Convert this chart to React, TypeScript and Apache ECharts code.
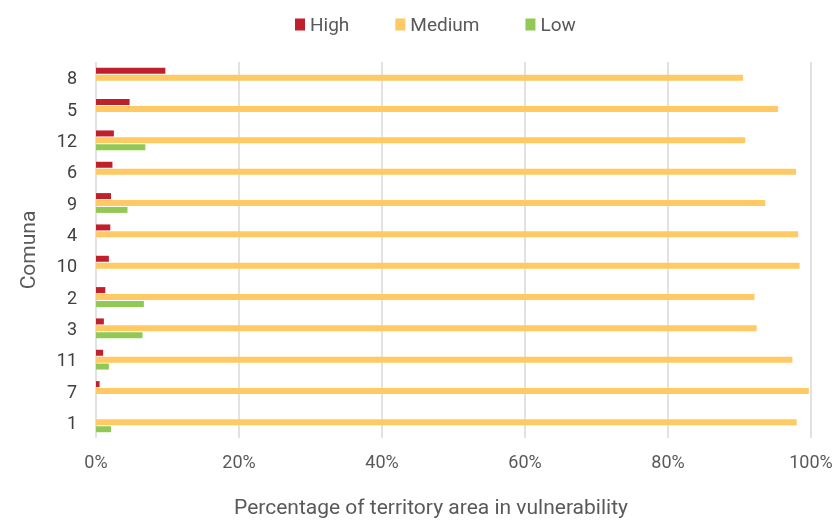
import React, { useEffect, useRef } from "react";
import * as echarts from "echarts";

const comunas = ["8", "5", "12", "6", "9", "4", "10", "2", "3", "11", "7", "1"];
const highValues = [9.7, 4.7, 2.5, 2.3, 2.1, 2.0, 1.8, 1.3, 1.1, 1.0, 0.5, 0];
const mediumValues = [90.5, 95.4, 90.8, 97.9, 93.6, 98.2, 98.4, 92.1, 92.4, 97.4, 99.7, 98.0];
const lowValues = [0, 0, 6.9, 0, 4.4, 0, 0, 6.7, 6.5, 1.8, 0, 2.1];
const seriesNames = ["High", "Medium", "Low"];
const seriesColors = ["#C0202B", "#FFCA64", "#92C955"];

export default function App() {
  const ref = useRef<HTMLDivElement>(null);
  useEffect(() => {
    if (!ref.current) return;
    const chart = echarts.init(ref.current, null, { renderer: "svg" });
    const font = "Roboto, 'Noto Sans', sans-serif";
    const values = [highValues, mediumValues, lowValues];
    chart.setOption({
      animation: false,
      textStyle: { fontFamily: font },
      legend: {
        top: 10,
        left: 290,
        itemWidth: 10,
        itemHeight: 12,
        itemGap: 46,
        icon: "rect",
        textStyle: { fontSize: 19, color: "#595959", fontFamily: font },
        data: seriesNames,
      },
      grid: { left: 96, width: 715, top: 62, height: 385, containLabel: false },
      xAxis: {
        type: "value",
        min: 0,
        max: 100,
        interval: 20,
        name: "Percentage of territory area in vulnerability",
        nameLocation: "middle",
        nameGap: 58,
        nameTextStyle: {
          fontSize: 21,
          color: "#595959",
          fontFamily: font,
          padding: [0, 45, 0, 0],
        },
        axisLabel: {
          formatter: "{value}%",
          fontSize: 18,
          color: "#595959",
          margin: 14,
          fontFamily: font,
        },
        axisLine: { show: false },
        axisTick: { show: false },
        splitLine: { show: true, lineStyle: { color: "#D9D9D9", width: 1.5 } },
      },
      yAxis: {
        type: "category",
        inverse: true,
        data: comunas,
        name: "Comuna",
        nameLocation: "middle",
        nameGap: 58,
        nameRotate: 90,
        nameTextStyle: { fontSize: 21, color: "#595959", fontFamily: font },
        axisLabel: { fontSize: 18, color: "#404040", margin: 19, fontFamily: font },
        axisLine: { show: false },
        axisTick: { show: false },
        splitLine: { show: false },
      },
      series: seriesNames.map((name, i) => ({
        name,
        type: "bar",
        data: values[i],
        barWidth: 6,
        barGap: "15%",
        itemStyle: { color: seriesColors[i] },
      })),
    });
    return () => chart.dispose();
  }, []);
  return (
    <div
      ref={ref}
      style={{ position: "fixed", left: 0, top: 0, width: 836, height: 522 }}
    />
  );
}
